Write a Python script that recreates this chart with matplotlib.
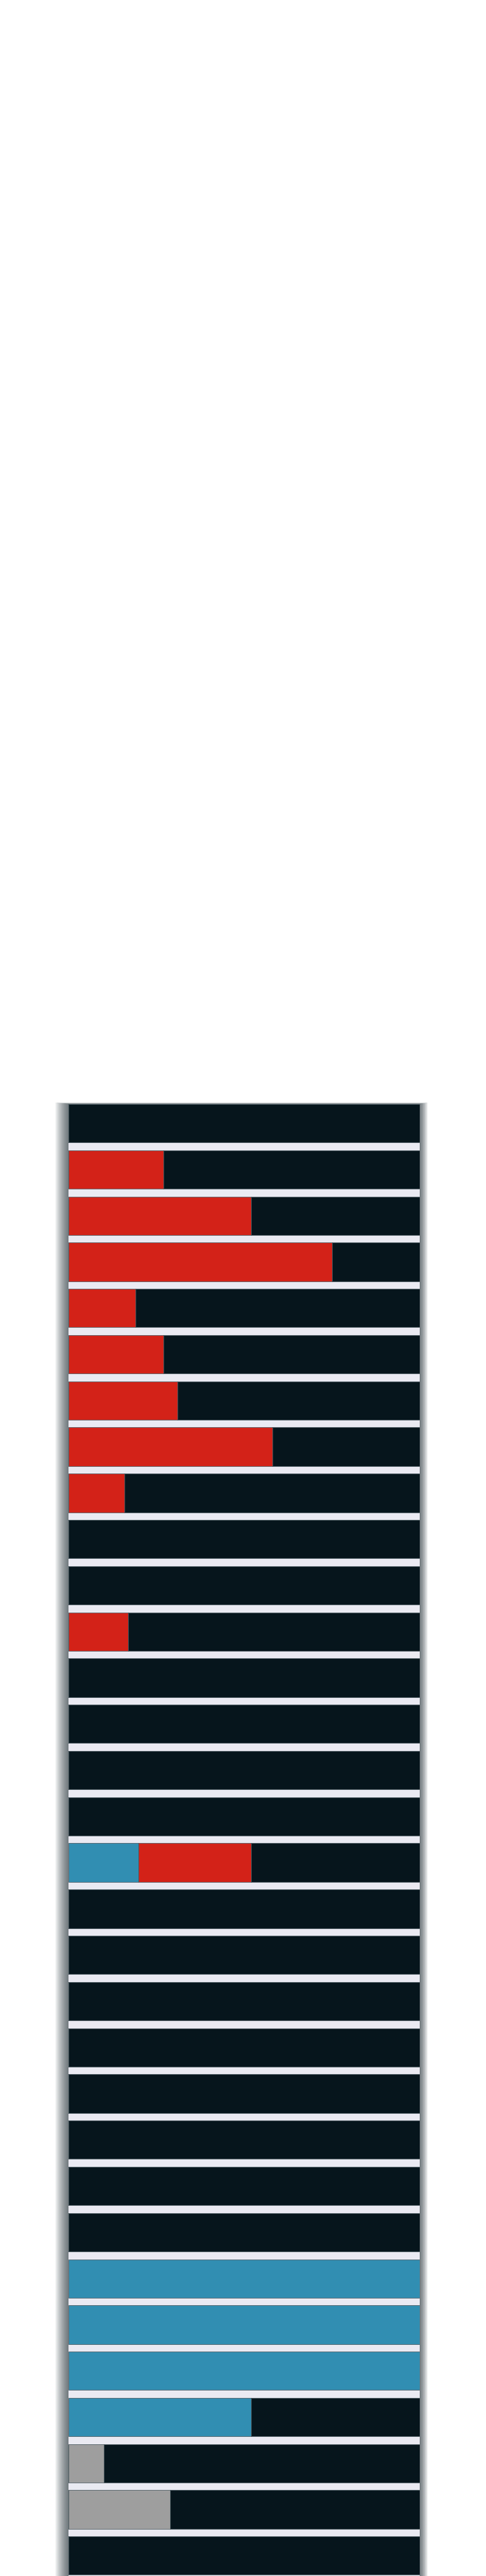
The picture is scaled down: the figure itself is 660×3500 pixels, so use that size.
import matplotlib
matplotlib.use("Agg")
import matplotlib.pyplot as plt
from matplotlib.patches import Rectangle
import numpy as np

# ---- data (percent of each row) ----
rows = list(range(32))
blue = [0, 0, 0, 0, 0, 0, 0, 0, 0, 0, 0, 0, 0, 0, 0, 0,
        20, 0, 0, 0, 0, 0, 0, 0, 0, 100, 100, 100, 52, 0, 0, 0]
red = [0, 27, 52, 75, 19, 27, 31, 58, 16, 0, 0, 17, 0, 0, 0, 0,
       32, 0, 0, 0, 0, 0, 0, 0, 0, 0, 0, 0, 0, 0, 0, 0]
gray = [0] * 29 + [10, 29, 0]

COL_BLUE = "#318eb2"
COL_RED = "#d32218"
COL_GRAY = "#9e9e9e"
COL_DARK = "#06151c"
COL_BG = "#eaeaf2"

W, H = 660, 3500
fig = plt.figure(figsize=(W / 100, H / 100), dpi=100, facecolor="white")

ax_left, ax_right = 93, 570
ax_top, ax_bottom = 1500, 3500
ax = fig.add_axes([ax_left / W, 1 - ax_bottom / H,
                   (ax_right - ax_left) / W, (ax_bottom - ax_top) / H])
ax.set_facecolor(COL_BG)

# soft shadow behind the panel
for k in range(1, 19):
    m = k
    r = Rectangle(((ax_left - m) / W, 1 - (ax_bottom + m) / H),
                  (ax_right - ax_left + 2 * m * 0.8) / W,
                  (ax_bottom - ax_top + 2 * m * 0.55) / H,
                  transform=fig.transFigure, facecolor="#0a1a20",
                  alpha=0.045, edgecolor="none", zorder=-10)
    fig.patches.append(r)

blue_a = np.array(blue, float)
red_a = np.array(red, float)
gray_a = np.array(gray, float)
dark_a = 100 - blue_a - red_a - gray_a

h = 0.833
ekw = dict(height=h, edgecolor="#46555c", linewidth=0.5)
left = np.zeros(len(rows))
for vals, col in [(blue_a, COL_BLUE), (red_a, COL_RED), (gray_a, COL_GRAY), (dark_a, COL_DARK)]:
    ax.barh(rows, vals, left=left, color=col, **ekw)
    left = left + vals

ax.set_xlim(0, 100)
ax.set_ylim(len(rows) - 1 + h / 2 + 0.024, -h / 2)
ax.set_xticks([])
ax.set_yticks([])
for s in ax.spines.values():
    s.set_visible(False)

fig.savefig("out.png", dpi=100, facecolor="white")
